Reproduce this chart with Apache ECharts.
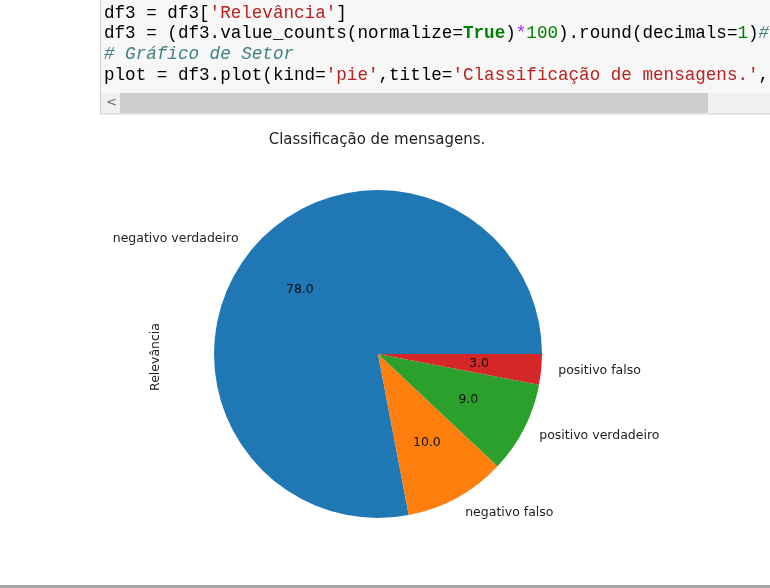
<!DOCTYPE html>
<html>
<head>
<meta charset="utf-8">
<script src="https://cdn.jsdelivr.net/npm/echarts@6/dist/echarts.min.js"></script>
<style>
html,body{margin:0;padding:0;background:#fff;}
#chart{width:770px;height:588px;}
</style>
</head>
<body>
<div id="chart"></div>
<script>
// ---- data ----
const categories = ['negativo verdadeiro', 'negativo falso', 'positivo verdadeiro', 'positivo falso'];
const values = [78.0, 10.0, 9.0, 3.0];
const sliceColors = ['#1f77b4', '#ff7f0e', '#2ca02c', '#d62728'];
const chartTitle = 'Classificação de mensagens.';
const yLabel = 'Relevância';
const codeLines = [
  "df3 = df3[{s|'Relevância'}]",
  "df3 = (df3.value_counts(normalize={k|True}){o|*}{n|100}).round(decimals={n|1}){c|#}",
  "{c|# Gráfico de Setor}",
  "plot = df3.plot(kind={s|'pie'},title={s|'Classificação de mensagens.'},{s|'}"
];

const chart = echarts.init(document.getElementById('chart'), null, {renderer: 'canvas'});
const FONT = 'DejaVu Sans';
const MONO = 'Liberation Mono';
const FS = 17.6;
const cx = 378, cy = 354, R = 164;

const pieData = categories.map((c, i) => ({name: c, value: values[i], itemStyle: {color: sliceColors[i]}}));

const codeRich = {
  s: {fill: '#ba2121', fontFamily: MONO, fontSize: FS},
  k: {fill: '#008000', fontWeight: 'bold', fontFamily: MONO, fontSize: FS},
  o: {fill: '#aa22ff', fontFamily: MONO, fontSize: FS},
  n: {fill: '#008000', fontFamily: MONO, fontSize: FS},
  c: {fill: '#408080', fontStyle: 'italic', fontFamily: MONO, fontSize: FS}
};

const graphics = [
  {type: 'rect', shape: {x: 100.5, y: -2, width: 680, height: 116}, style: {fill: '#f7f7f7', stroke: '#cfcfcf', lineWidth: 1}, z: 1},
  {type: 'rect', shape: {x: 101, y: 93, width: 669, height: 20}, style: {fill: '#f0f0f0'}, z: 2},
  {type: 'rect', shape: {x: 120, y: 93, width: 588, height: 20}, style: {fill: '#cdcdcd'}, z: 3},
  {type: 'text', x: 106, y: 103, style: {text: '<', fontFamily: FONT, fontSize: 13, fill: '#666', verticalAlign: 'middle'}, z: 4},
  {type: 'rect', shape: {x: 0, y: 585, width: 770, height: 3}, style: {fill: '#a8a8a8'}, z: 1},
  {type: 'text', x: 156, y: 357, rotation: Math.PI / 2,
    style: {text: yLabel, fontFamily: FONT, fontSize: 12.5, fill: '#222', align: 'center', verticalAlign: 'middle'}, z: 5}
];
codeLines.forEach((ln, i) => {
  graphics.push({type: 'text', x: 104, y: 13 + i * 20.7,
    style: {text: ln, rich: codeRich, fontFamily: MONO, fontSize: FS, fill: '#000', verticalAlign: 'middle'}, z: 5});
});

chart.setOption({
  animation: false,
  backgroundColor: '#ffffff',
  title: {
    text: chartTitle, left: 372, top: 128, textAlign: 'center',
    textStyle: {fontFamily: FONT, fontSize: 15, fontWeight: 'normal', color: '#222'}
  },
  graphic: graphics,
  series: [
    {
      type: 'pie', center: [cx, cy], radius: [0, R],
      startAngle: 0, clockwise: false, avoidLabelOverlap: false,
      minAngle: 0, silent: true,
      data: pieData,
      itemStyle: {borderWidth: 0},
      label: {show: true, position: 'outside', formatter: '{b}', distanceToLabelLine: 0,
        fontFamily: FONT, fontSize: 12.5, color: '#222'},
      labelLine: {show: false, length: 17, length2: 0},
      emphasis: {disabled: true}
    },
    {
      type: 'pie', center: [cx, cy], radius: [R * 0.2, R],
      startAngle: 0, clockwise: false, avoidLabelOverlap: false, silent: true,
      data: pieData.map(d => ({name: d.name, value: d.value})),
      itemStyle: {color: 'rgba(0,0,0,0)', borderWidth: 0},
      label: {show: true, position: 'inside', formatter: p => p.value.toFixed(1),
        fontFamily: FONT, fontSize: 12.5, color: '#111'},
      labelLine: {show: false},
      emphasis: {disabled: true}
    }
  ]
});
</script>
</body>
</html>
